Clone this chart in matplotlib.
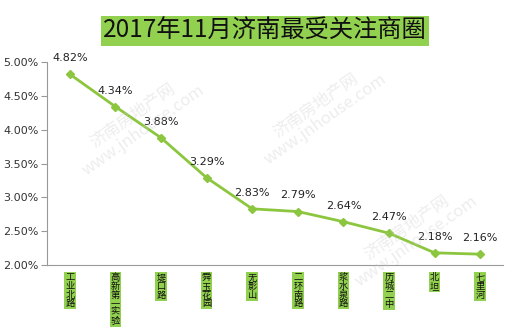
import matplotlib.pyplot as plt
import numpy as np

plt.rcParams['font.family'] = ['Noto Sans CJK SC', 'DejaVu Sans']

districts = ['工业北路', '高新第一实验', '堤口路', '舜玉花园', '无影山',
             '二环南路', '浆水泉路', '历城二中', '北坦', '七里河']
shares = [4.82, 4.34, 3.88, 3.29, 2.83, 2.79, 2.64, 2.47, 2.18, 2.16]
yticks = [2.0, 2.5, 3.0, 3.5, 4.0, 4.5, 5.0]

green = '#8cc63f'
box_green = '#92d050'

fig = plt.figure(figsize=(5.1, 3.3), dpi=100)
ax = fig.add_axes([47 / 510, 1 - 265 / 330, 456 / 510, 203 / 330])

x = np.arange(len(districts))
ax.plot(x, shares, color=green, lw=2, marker='D', ms=4, mfc=green, mec=green)
for xi, v in zip(x, shares):
    ax.annotate('{:.2f}%'.format(v), (xi, v), xytext=(0, 8), textcoords='offset points',
                ha='center', va='bottom', fontsize=8, family='DejaVu Sans', color='#222222')

ax.set_xlim(-0.5, len(districts) - 0.5)
ax.set_ylim(2.0, 5.0)
ax.set_yticks(yticks)
ax.set_yticklabels(['{:.2f}%'.format(t) for t in yticks], family='DejaVu Sans',
                   fontsize=8, color='#333333')
ax.set_xticks([])
for s in ['top', 'right']:
    ax.spines[s].set_visible(False)
for s in ['left', 'bottom']:
    ax.spines[s].set_color('#999999')
ax.tick_params(axis='y', length=4, color='#999999', pad=2)

# vertical category labels on green boxes
for xi, name in zip(x, districts):
    ax.annotate('\n'.join(name), (xi, 2.0), xytext=(0, -6), textcoords='offset points',
                ha='center', va='top', fontsize=6.7, linespacing=0.95, color='#111111',
                annotation_clip=False,
                bbox=dict(boxstyle='square,pad=0.12', fc=box_green, ec='none'))

# watermarks
for (wx, wy) in [(0.2, 0.7), (0.6, 0.75), (0.8, 0.15)]:
    ax.text(wx, wy, '济南房地产网\nwww.jnhouse.com', transform=ax.transAxes, rotation=35,
            ha='center', va='center', fontsize=12, color='#cccccc', alpha=0.35,
            linespacing=1.0)

fig.text(265 / 510, 1 - 31 / 330, '2017年11月济南最受关注商圈', ha='center', va='center',
         fontsize=17.5, color='#111111',
         bbox=dict(boxstyle='square,pad=0.1', fc=box_green, ec='none'))

fig.savefig('out.png', dpi=100)
